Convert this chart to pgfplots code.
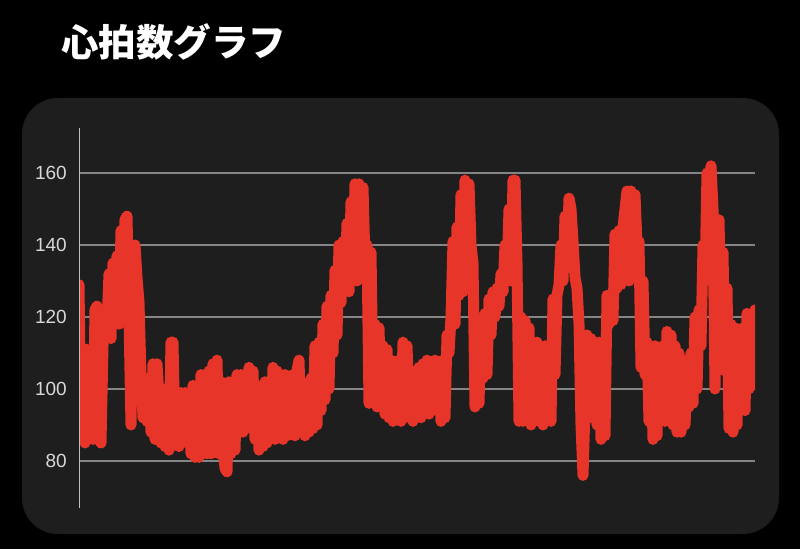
\documentclass[border=0pt]{standalone}
\usepackage{pgfplots}
\pgfplotsset{compat=1.18}
\usepackage{fontspec}
\setmainfont{Liberation Sans}
\newfontfamily\cjk{Noto Sans CJK JP}

\definecolor{panel}{HTML}{1E1E1E}
\definecolor{hr}{HTML}{E8352A}
\definecolor{gridc}{HTML}{858585}
\definecolor{axc}{HTML}{C0C0C0}
\definecolor{lbl}{HTML}{D8D8D8}

% heart rate, x in pixel columns of the panel
\pgfplotstableread{
x y
79 129
81 86
83 110
85 85
87 111
89 86
91 97
93 86
95 122
97 123
99 86
101 85
103 112
105 121
107 118
109 132
111 114
113 135
115 120
117 137
119 118
121 144
123 120
125 147
127 148
129 120
131 90
133 138
135 140
137 131
139 124
141 104
143 92
145 103
147 91
149 103
151 88
153 107
155 86
157 107
159 98
161 85
163 100
165 84
167 99
169 83
171 113
173 113
175 85
177 99
179 84
181 99
183 86
185 99
187 85
189 99
191 82
193 101
195 81
197 101
199 81
201 104
203 82
205 104
207 82
209 105
211 82
213 107
215 83
217 108
219 82
221 102
223 84
225 78
227 77
229 102
231 82
233 102
235 83
237 104
239 89
241 104
243 88
245 102
247 90
249 106
251 89
253 105
255 86
257 101
259 83
261 100
263 84
265 102
267 85
269 100
271 88
273 106
275 86
277 105
279 89
281 104
283 86
285 104
287 87
289 101
291 88
293 104
295 87
297 105
299 108
301 88
303 101
305 87
307 101
309 88
311 103
313 89
315 112
317 90
319 113
321 94
323 118
325 97
327 123
329 100
331 126
333 110
335 133
337 115
339 140
341 124
343 141
345 127
347 146
349 127
351 152
353 131
355 157
357 130
359 157
361 134
363 156
365 135
367 140
369 96
371 138
373 100
375 118
377 95
379 117
381 97
383 112
385 93
387 111
389 92
391 108
393 91
395 106
397 95
399 108
401 91
403 113
405 92
407 112
409 95
411 104
413 91
415 105
417 93
419 106
421 92
423 107
425 95
427 108
429 93
431 107
433 94
435 108
437 96
439 107
441 91
443 108
445 92
447 115
449 110
451 120
453 141
455 118
457 145
459 126
461 154
463 127
465 158
467 130
469 157
471 140
473 135
475 95
477 120
479 96
481 118
483 103
485 121
487 104
489 125
491 115
493 127
495 120
497 128
499 123
501 132
503 127
505 140
507 131
509 150
511 130
513 158
515 158
517 135
519 91
521 120
523 91
525 119
527 92
529 117
531 90
533 113
535 92
537 113
539 91
541 111
543 90
545 112
547 92
549 109
551 91
553 125
555 104
557 126
559 129
561 140
563 130
565 148
567 136
569 153
571 150
573 141
575 131
577 128
579 118
581 90
583 76
585 95
587 115
589 92
591 114
593 92
595 113
597 90
599 113
601 86
603 112
605 87
607 126
609 118
611 126
613 119
615 143
617 128
619 144
621 129
623 145
625 150
627 155
629 130
631 155
633 131
635 154
637 140
639 141
641 106
643 130
645 104
647 113
649 91
651 110
653 86
655 112
657 87
659 111
661 92
663 112
665 91
667 116
669 92
671 115
673 90
675 112
677 88
679 110
681 88
683 108
685 90
687 104
689 95
691 110
693 96
695 120
697 100
699 122
701 112
703 140
705 130
707 160
709 135
711 162
713 150
715 100
717 145
719 147
721 120
723 138
725 105
727 128
729 89
731 118
733 88
735 117
737 90
739 116
741 95
743 117
745 94
747 121
749 100
751 119
753 101
755 122
}\hrdata

\begin{document}
\begin{tikzpicture}[x=1pt,y=1pt]
\fill[black] (0,0) rectangle (800,549);
\fill[panel, rounded corners=36pt] (22,15) rectangle (779,451);
\node[anchor=base west, inner sep=0pt, text=white]
  at (61,492) {\cjk\fontsize{37.5}{38}\selectfont\bfseries 心拍数グラフ};
\begin{axis}[
    at={(79pt,41pt)}, anchor=south west,
    scale only axis,
    width=676pt, height=380pt,
    xmin=79, xmax=755,
    ymin=66.94, ymax=172.5,
    axis x line=none,
    axis y line*=left,
    y axis line style={draw=none},
    xtick=\empty,
    ytick={80,100,120,140,160},
    major tick length=0pt,
    ymajorgrids,
    grid style={gridc, line width=1.1pt},
    yticklabel style={font=\fontsize{19}{19}\selectfont, text=lbl,
                      anchor=east, inner sep=0pt, xshift=-12pt},
    /pgf/number format/assume math mode=true,
]
\addplot[hr, line width=11pt, line join=round, line cap=round, no markers]
  table[x=x, y=y] {\hrdata};
\draw[axc, line width=1.5pt] (rel axis cs:0,0) -- (rel axis cs:0,1);
\end{axis}
\end{tikzpicture}
\end{document}
